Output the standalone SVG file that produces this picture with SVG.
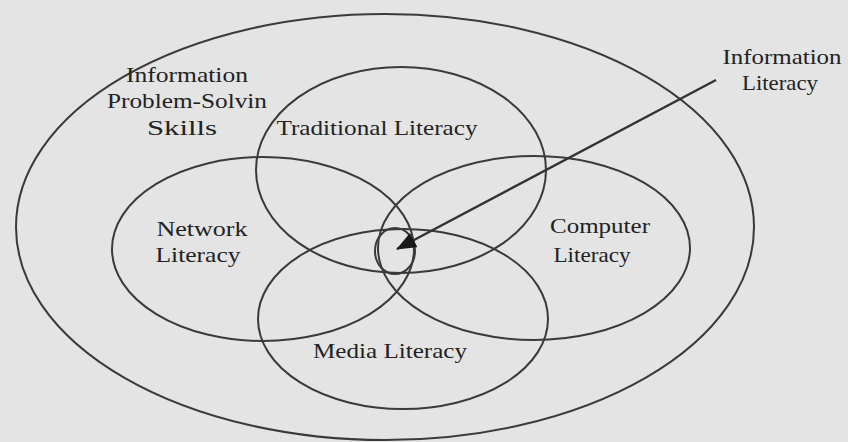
<svg xmlns="http://www.w3.org/2000/svg" width="848" height="442" viewBox="0 0 848 442">
<style>
.bg{fill:#e4e4e4}
.ring{fill:none;stroke:#3a3a3a;stroke-width:2}
.lbl{font-family:"Liberation Serif","Times New Roman",serif;font-size:22px;fill:#222;text-anchor:middle}
.conn{stroke:#333;stroke-width:2.4;fill:none}
</style>
<defs>
<marker id="ah" markerUnits="userSpaceOnUse" markerWidth="22" markerHeight="18" refX="19" refY="8" orient="auto">
<path d="M0,0 L20,8 L0,16 z" fill="#1a1a1a"/>
</marker>
</defs>
<rect class="bg" x="0" y="0" width="848" height="442"/>
<g id="information-problem-solving-skills">
<ellipse class="ring" cx="385" cy="227" rx="369" ry="213"/>
<text class="lbl" x="187" y="82" textLength="122" lengthAdjust="spacingAndGlyphs">Information</text>
<text class="lbl" x="187" y="108" textLength="160" lengthAdjust="spacingAndGlyphs">Problem-Solvin</text>
<text class="lbl" x="182" y="135" textLength="70" lengthAdjust="spacingAndGlyphs">Skills</text>
</g>
<g id="traditional-literacy">
<ellipse class="ring" cx="401" cy="170" rx="145" ry="103"/>
<text class="lbl" x="377" y="135" textLength="201" lengthAdjust="spacingAndGlyphs">Traditional Literacy</text>
</g>
<g id="network-literacy">
<ellipse class="ring" cx="263" cy="249" rx="151" ry="92"/>
<text class="lbl" x="202" y="236" textLength="91" lengthAdjust="spacingAndGlyphs">Network</text>
<text class="lbl" x="198" y="262" textLength="85" lengthAdjust="spacingAndGlyphs">Literacy</text>
</g>
<g id="computer-literacy">
<ellipse class="ring" cx="534" cy="248" rx="156" ry="92"/>
<text class="lbl" x="600" y="233" textLength="100" lengthAdjust="spacingAndGlyphs">Computer</text>
<text class="lbl" x="592" y="262" textLength="77" lengthAdjust="spacingAndGlyphs">Literacy</text>
</g>
<g id="media-literacy">
<ellipse class="ring" cx="403" cy="319" rx="145" ry="90"/>
<text class="lbl" x="390" y="358" textLength="154" lengthAdjust="spacingAndGlyphs">Media Literacy</text>
</g>
<g id="information-literacy">
<ellipse class="ring" cx="395" cy="251" rx="20" ry="23"/>
<text class="lbl" x="782" y="64" textLength="119" lengthAdjust="spacingAndGlyphs">Information</text>
<text class="lbl" x="780" y="90" textLength="76" lengthAdjust="spacingAndGlyphs">Literacy</text>
</g>
<g id="connectors">
<line class="conn" x1="716" y1="80" x2="397" y2="249" marker-end="url(#ah)"/>
</g>
</svg>
